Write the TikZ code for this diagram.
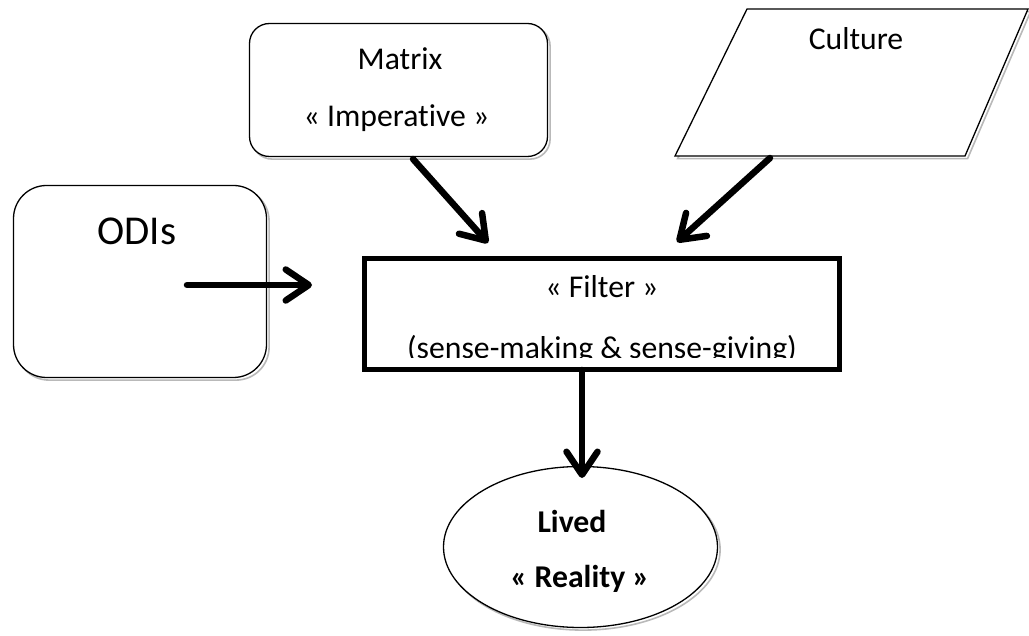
\documentclass[tikz,border=0pt]{standalone}
\usepackage{fontspec}
\setmainfont{Carlito}[Ligatures=NoCommon]
\usetikzlibrary{arrows.meta,shapes.geometric,shadows}

\begin{document}
\begin{tikzpicture}[x=1pt,y=-1pt,
  outline/.style={draw=black,line width=1.3pt,fill=white},
  softshadow/.style={general shadow={shadow xshift=2.6pt,shadow yshift=-2.6pt,
      draw=gray!55,line width=1.6pt,fill=none}},
  roundbox/.style={outline,softshadow,inner sep=0pt},
  filterbox/.style={draw=black,line width=5pt,fill=white,inner sep=0pt},
  lbl/.style={anchor=base,inner sep=0pt,font=\fontsize{31.7pt}{38pt}\selectfont},
  boldlbl/.style={lbl,font=\fontsize{31.7pt}{38pt}\selectfont\bfseries},
  biglbl/.style={anchor=base,inner sep=0pt,font=\fontsize{41pt}{48pt}\selectfont},
  flow/.style={line width=6.5pt,line cap=round,
      -{Straight Barb[length=23pt,width=31pt,round]}}
]
\useasboundingbox (0,0) rectangle (1029,636);

% shapes
\node[roundbox,rounded corners=20pt,minimum width=298pt,minimum height=133pt]
  (matrix) at (398.5,90) {};
\node[roundbox,rounded corners=33pt,minimum width=253pt,minimum height=192pt]
  (odis) at (140,281.5) {};
\coordinate (cTL) at (747,9);
\coordinate (cTR) at (1028,9);
\coordinate (cBR) at (965,156);
\coordinate (cBL) at (675,156);
\path[outline,softshadow] (cTL) -- (cTR) -- (cBR) -- (cBL) -- cycle;
\node[filterbox,minimum width=475pt,minimum height=111pt] (filter) at (602,314) {};
\node[ellipse,outline,softshadow,inner sep=0pt,minimum width=274pt,minimum height=161pt]
  (reality) at (580.5,547) {};

% labels
\node[lbl] (matrixA) at (400,70) {Matrix};
\node[lbl] (matrixB) at (396.5,127) {« Imperative »};
\node[lbl] (culture) at (856,50) {Culture};
\node[biglbl] (odiText) at (137,245) {ODIs};
\node[lbl] (filterA) at (602,298) {« Filter »};
\begin{scope}
  \clip (366,259) rectangle (838,358);
  \node[lbl] (filterB) at (602,359) {(sense-making \& sense-giving)};
\end{scope}
\node[boldlbl] (livedA) at (572,532) {Lived};
\node[boldlbl] (livedB) at (580,587) {« Reality »};

% connector end points
\coordinate (odiFrom) at (187,285);
\coordinate (odiTo) at (312,285);
\coordinate (matrixFrom) at (413,159);
\coordinate (matrixTo) at (488,243);
\coordinate (cultureFrom) at (770,158);
\coordinate (cultureTo) at (677,242);
\coordinate (filterFrom) at (582,370);
\coordinate (realityTo) at (582,478);

% connectors
\draw[flow] (odiFrom) -- (odiTo);
\draw[flow] (matrixFrom) -- (matrixTo);
\draw[flow] (cultureFrom) -- (cultureTo);
\draw[flow] (filterFrom) -- (realityTo);
\end{tikzpicture}
\end{document}
